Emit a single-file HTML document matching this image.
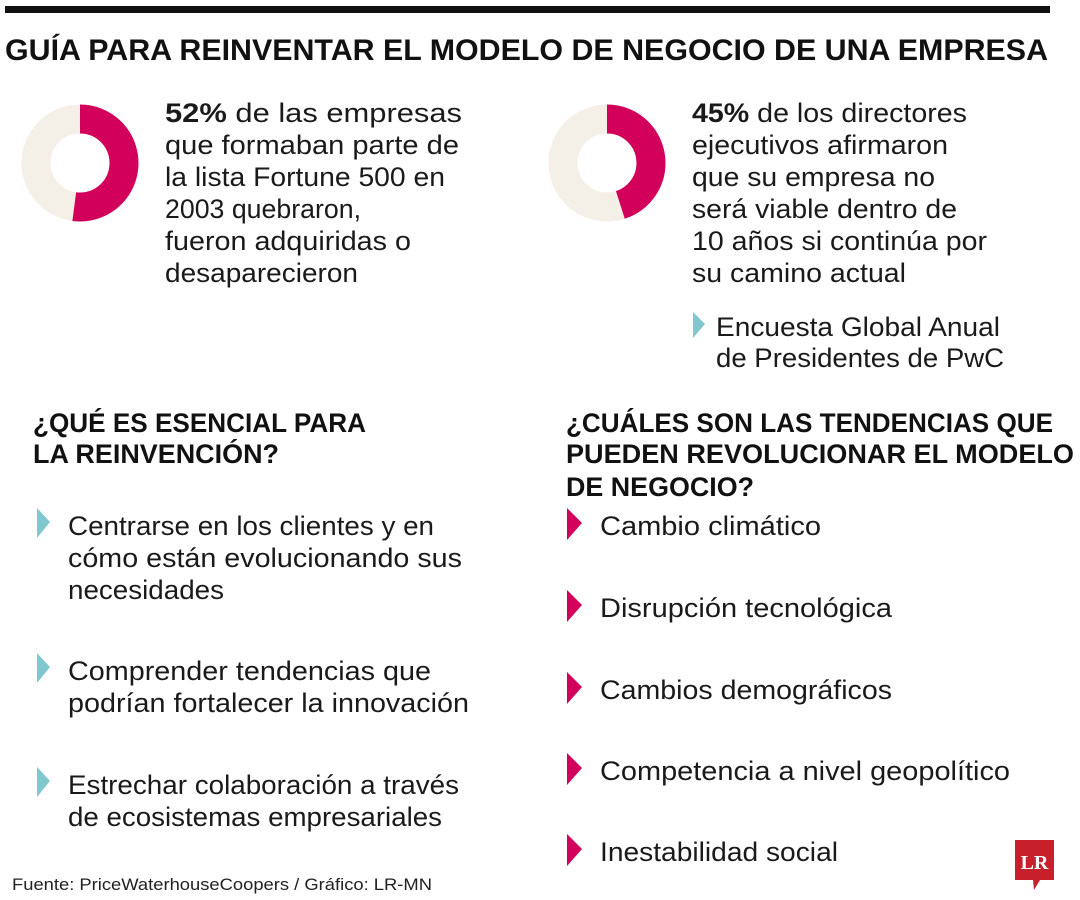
<!DOCTYPE html>
<html><head><meta charset="utf-8"><style>
html,body{margin:0;padding:0;background:#fff;}
svg{display:block;}
.t{font-family:"Liberation Sans",sans-serif;font-size:27px;fill:#1a1a1a;}
.b{font-family:"Liberation Sans",sans-serif;font-weight:bold;fill:#111;}
</style></head><body>
<svg width="1080" height="900" viewBox="0 0 1080 900" xmlns="http://www.w3.org/2000/svg">
<rect x="5" y="6" width="1045" height="7" fill="#111"/>
<text class="b" x="5" y="60" font-size="30" textLength="1043" lengthAdjust="spacingAndGlyphs">GUÍA PARA REINVENTAR EL MODELO DE NEGOCIO DE UNA EMPRESA</text>

<!-- donut 1 -->
<circle cx="80" cy="163" r="44" fill="none" stroke="#f4efe7" stroke-width="29"/>
<circle cx="80" cy="163" r="44" fill="none" stroke="#d2005a" stroke-width="29" stroke-dasharray="143.8 400" transform="rotate(-90 80 163)"/>
<!-- donut 2 -->
<circle cx="607" cy="163" r="44" fill="none" stroke="#f4efe7" stroke-width="29"/>
<circle cx="607" cy="163" r="44" fill="none" stroke="#d2005a" stroke-width="29" stroke-dasharray="124.4 400" transform="rotate(-90 607 163)"/>

<g class="t">
<text x="165" y="122" textLength="297" lengthAdjust="spacingAndGlyphs"><tspan font-weight="bold">52%</tspan> de las empresas</text>
<text x="165" y="154" textLength="294" lengthAdjust="spacingAndGlyphs">que formaban parte de</text>
<text x="165" y="186" textLength="280" lengthAdjust="spacingAndGlyphs">la lista Fortune 500 en</text>
<text x="165" y="218" textLength="196" lengthAdjust="spacingAndGlyphs">2003 quebraron,</text>
<text x="165" y="250" textLength="246" lengthAdjust="spacingAndGlyphs">fueron adquiridas o</text>
<text x="165" y="282" textLength="193" lengthAdjust="spacingAndGlyphs">desaparecieron</text>

<text x="692" y="122" textLength="275" lengthAdjust="spacingAndGlyphs"><tspan font-weight="bold">45%</tspan> de los directores</text>
<text x="692" y="154" textLength="256" lengthAdjust="spacingAndGlyphs">ejecutivos afirmaron</text>
<text x="692" y="186" textLength="243" lengthAdjust="spacingAndGlyphs">que su empresa no</text>
<text x="692" y="218" textLength="265" lengthAdjust="spacingAndGlyphs">será viable dentro de</text>
<text x="692" y="250" textLength="295" lengthAdjust="spacingAndGlyphs">10 años si continúa por</text>
<text x="692" y="282" textLength="214" lengthAdjust="spacingAndGlyphs">su camino actual</text>
<text x="716" y="336" textLength="284" lengthAdjust="spacingAndGlyphs">Encuesta Global Anual</text>
<text x="716" y="367" textLength="288" lengthAdjust="spacingAndGlyphs">de Presidentes de PwC</text>

<text x="68" y="535" textLength="366" lengthAdjust="spacingAndGlyphs">Centrarse en los clientes y en</text>
<text x="68" y="567" textLength="394" lengthAdjust="spacingAndGlyphs">cómo están evolucionando sus</text>
<text x="68" y="599" textLength="156" lengthAdjust="spacingAndGlyphs">necesidades</text>
<text x="68" y="680" textLength="363" lengthAdjust="spacingAndGlyphs">Comprender tendencias que</text>
<text x="68" y="712" textLength="401" lengthAdjust="spacingAndGlyphs">podrían fortalecer la innovación</text>
<text x="68" y="794" textLength="391" lengthAdjust="spacingAndGlyphs">Estrechar colaboración a través</text>
<text x="68" y="826" textLength="374" lengthAdjust="spacingAndGlyphs">de ecosistemas empresariales</text>

<text x="600" y="535" textLength="221" lengthAdjust="spacingAndGlyphs">Cambio climático</text>
<text x="600" y="617" textLength="292" lengthAdjust="spacingAndGlyphs">Disrupción tecnológica</text>
<text x="600" y="699" textLength="292" lengthAdjust="spacingAndGlyphs">Cambios demográficos</text>
<text x="600" y="780" textLength="410" lengthAdjust="spacingAndGlyphs">Competencia a nivel geopolítico</text>
<text x="600" y="861" textLength="238" lengthAdjust="spacingAndGlyphs">Inestabilidad social</text>
</g>

<g class="b" font-size="27">
<text x="33" y="432" textLength="333" lengthAdjust="spacingAndGlyphs">¿QUÉ ES ESENCIAL PARA</text>
<text x="33" y="463" textLength="246" lengthAdjust="spacingAndGlyphs">LA REINVENCIÓN?</text>
<text x="566" y="432" textLength="487" lengthAdjust="spacingAndGlyphs">¿CUÁLES SON LAS TENDENCIAS QUE</text>
<text x="566" y="463" textLength="508" lengthAdjust="spacingAndGlyphs">PUEDEN REVOLUCIONAR EL MODELO</text>
<text x="566" y="496" textLength="188" lengthAdjust="spacingAndGlyphs">DE NEGOCIO?</text>
</g>

<!-- teal triangles -->
<g fill="#80c8cd">
<polygon points="693,312 705,324 693,338"/>
<polygon points="37,508 50,522 37,538"/>
<polygon points="37,653 50,667 37,683"/>
<polygon points="37,767 50,781 37,797"/>
</g>
<!-- pink triangles -->
<g fill="#d2005a">
<polygon points="567,508 582,523 567,540"/>
<polygon points="567,590 582,605 567,622"/>
<polygon points="567,672 582,687 567,704"/>
<polygon points="567,753 582,768 567,785"/>
<polygon points="567,834 582,849 567,866"/>
</g>

<text x="12" y="890" font-family="Liberation Sans,sans-serif" font-size="17" fill="#222" textLength="420" lengthAdjust="spacingAndGlyphs">Fuente: PriceWaterhouseCoopers / Gráfico: LR-MN</text>

<!-- LR logo -->
<path d="M1015,840 H1054 V880 H1040 L1034,890 L1033,880 H1015 Z" fill="#c8202a"/>
<text x="1034.5" y="869" text-anchor="middle" font-family="Liberation Serif,serif" font-weight="bold" font-size="20" fill="#fff">LR</text>
</svg>
</body></html>
